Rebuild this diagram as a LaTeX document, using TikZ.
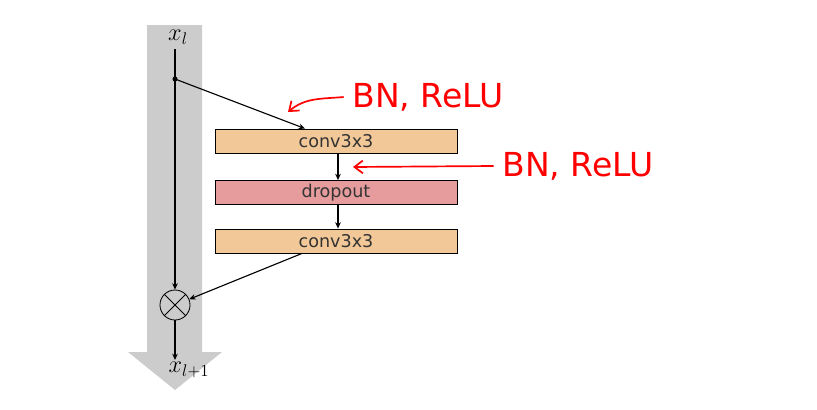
\documentclass[tikz,border=0pt]{standalone}
\usepackage{fontspec}
\usepackage{amsmath}
\newfontfamily\dejavu{DejaVu Sans}
\usetikzlibrary{positioning,arrows.meta,calc}
\definecolor{rnGray}{RGB}{204,204,204}
\definecolor{rnConv}{RGB}{242,200,152}
\definecolor{rnDrop}{RGB}{230,156,156}
\definecolor{rnRed}{RGB}{255,0,0}

\begin{document}
\begin{tikzpicture}[
    x=0.025cm, y=-0.025cm,
    layer/.style={rectangle, draw=black, semithick, minimum width=6.05cm, minimum height=0.6cm, inner sep=0pt, font=\dejavu\fontsize{12.5}{14}\selectfont, text=black!80},
    sum/.style={circle, draw=black, semithick, minimum size=0.75cm, inner sep=0pt},
    flow/.style={->, >={Stealth[length=4.5pt,width=4pt]}, thick},
    note/.style={text=rnRed, font=\dejavu\fontsize{23.5}{27}\selectfont, inner sep=6pt},
    note arrow/.style={->, >={Straight Barb[length=6pt,width=9pt]}, draw=rnRed, line width=1.2pt}
]
  \useasboundingbox (0,0) rectangle (817,409);
  % identity path
  \fill[rnGray] (147,25) -- (202,25) -- (202,352) -- (222,352) -- (175,390)
    -- (128,352) -- (147,352) -- cycle;

  \node (xl) at (178,37) {\fontsize{18.5}{20}\selectfont$x_l$};
  \coordinate (split) at (175,79);
  \node[layer, fill=rnConv] (conv1) at (336,141) {conv3x3};
  \node[layer, fill=rnDrop] (drop) at (336,192.5) {dropout};
  \node[layer, fill=rnConv] (conv2) at (336,241) {conv3x3};
  \node[sum] (add) at (175,305) {};
  \coordinate (out) at (175,360);
  \node (xl1) at (189,370) {\fontsize{18.5}{20}\selectfont$x_{l+1}$};

  \draw[flow] (split |- xl.south) -- (add);
  \fill (split) circle (1.8pt);
  \draw[flow] (split) -- ($(conv1.north)+(-31,0)$);
  \draw[flow] ($(conv1.south)+(2,0)$) -- ($(drop.north)+(2,0)$);
  \draw[flow] ($(drop.south)+(2,0)$) -- ($(conv2.north)+(2,0)$);
  \draw[flow] ($(conv2.south)+(-34,0)$) -- (add);
  \draw[semithick] (add.north west) -- (add.south east)
    (add.north east) -- (add.south west);
  \draw[flow] (add) -- (out);

  % annotations
  \node[note] (bn1) at (428,97) {BN, ReLU};
  \node[note] (bn2) at (578,166) {BN, ReLU};
  \coordinate (bn1tip) at (288,112);
  \coordinate (bn2tip) at (353,167);
  \draw[note arrow] (bn1.west) to[out=185,in=40] (bn1tip);
  \draw[note arrow] (bn2.west) -- (bn2tip);
\end{tikzpicture}
\end{document}
